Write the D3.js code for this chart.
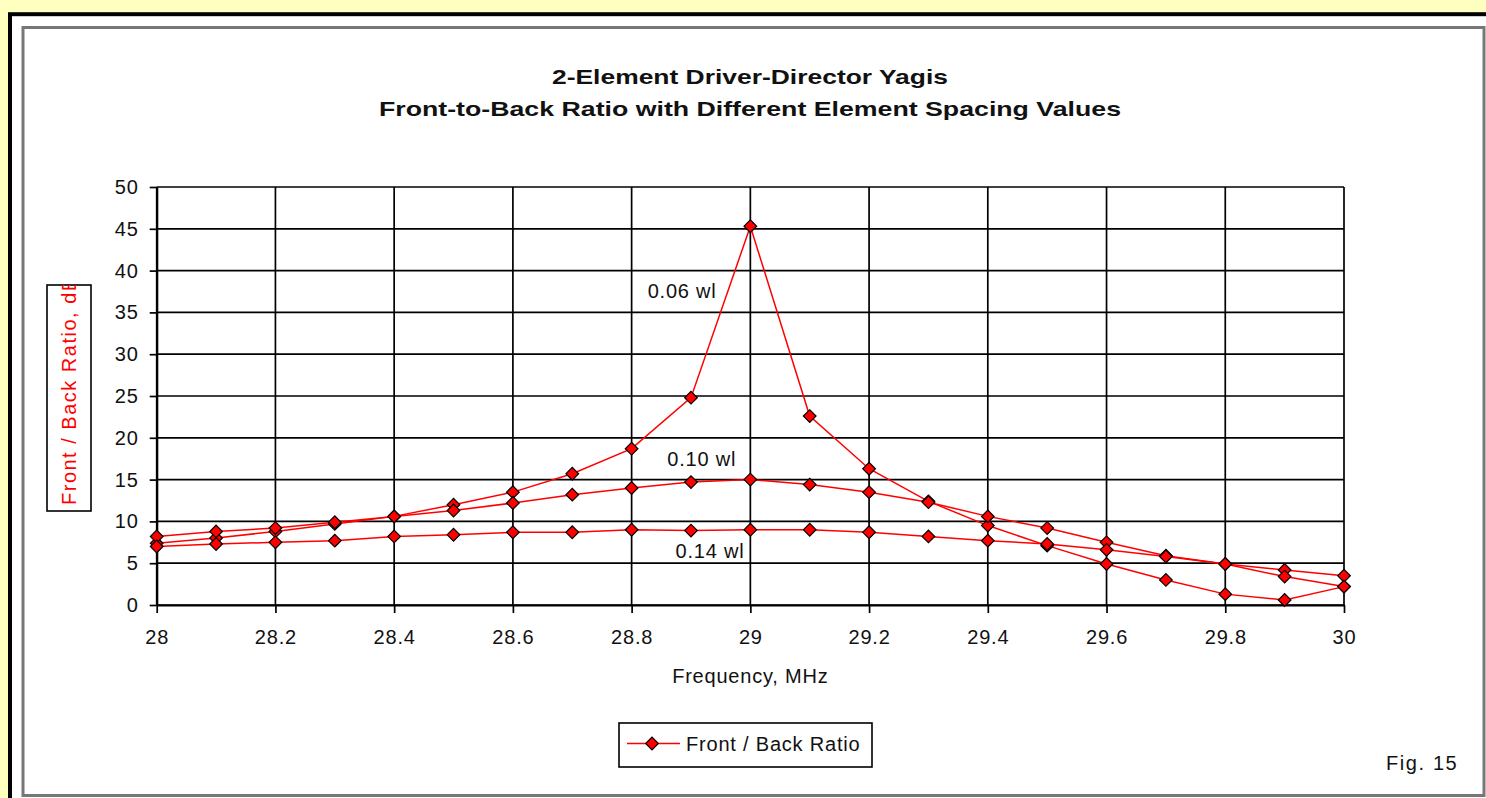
<!DOCTYPE html>
<html>
<head>
<meta charset="utf-8">
<script src="https://cdn.jsdelivr.net/npm/d3@7"></script>
<style>
  body { margin: 0; background: #ffffc0; overflow: hidden; }
  text { font-family: "Liberation Sans", Arial, sans-serif; }
</style>
</head>
<body>
<div id="chart"></div>
<script>
(function() {

  // frequency points, MHz
  const freqs = [28.0, 28.1, 28.2, 28.3, 28.4, 28.5, 28.6, 28.7, 28.8, 28.9, 29.0,
                 29.1, 29.2, 29.3, 29.4, 29.5, 29.6, 29.7, 29.8, 29.9, 30.0];

  // front-to-back ratio (dB) for each element spacing
  const fb006 = [7.4, 8.0, 8.8, 9.7, 10.6, 12.0, 13.5, 15.7, 18.7, 24.8, 45.3,
                 22.6, 16.3, 12.4, 9.5, 7.1, 4.9, 3.0, 1.3, 0.6, 2.2];
  const fb010 = [8.2, 8.8, 9.2, 9.9, 10.6, 11.3, 12.2, 13.2, 14.0, 14.7, 15.0,
                 14.4, 13.5, 12.3, 10.6, 9.2, 7.5, 5.9, 4.9, 4.2, 3.5];
  const fb014 = [7.0, 7.3, 7.5, 7.7, 8.2, 8.4, 8.7, 8.7, 9.0, 8.9, 9.0,
                 9.0, 8.7, 8.2, 7.7, 7.3, 6.6, 5.8, 4.9, 3.4, 2.2];

  const xTicks = [28, 28.2, 28.4, 28.6, 28.8, 29, 29.2, 29.4, 29.6, 29.8, 30];
  const yTicks = [0, 5, 10, 15, 20, 25, 30, 35, 40, 45, 50];

  // curve labels, placed in data units (frequency, dB)
  const curveLabels = [
    { text: '0.06 wl', f: 28.827, v: 36.7 },
    { text: '0.10 wl', f: 28.86, v: 16.6 },
    { text: '0.14 wl', f: 28.874, v: 5.6 }
  ];

  const titleLines = ['2-Element Driver-Director Yagis',
                      'Front-to-Back Ratio with Different Element Spacing Values'];
  const xTitle = 'Frequency, MHz';
  const yTitle = 'Front / Back Ratio, dB';
  const legendText = 'Front / Back Ratio';
  const figText = 'Fig. 15';

  const W = 1486, H = 798;
  const plot = { left: 156.7, right: 1344, top: 187, bottom: 605 };
  const red = '#ff0000';
  const fontSize = 20;
  const spacing = 0.8;

  const svg = d3.select('#chart').append('svg')
    .attr('width', W)
    .attr('height', H)
    .style('display', 'block');

  // frame: yellow page, black border, white card, grey inner border
  svg.append('rect')
    .attr('width', W).attr('height', H)
    .attr('fill', '#ffffc0');
  svg.append('rect')
    .attr('x', 10).attr('y', 14.2)
    .attr('width', W + 20).attr('height', H + 20)
    .attr('fill', '#fff')
    .attr('stroke', '#000')
    .attr('stroke-width', 4);
  svg.append('rect')
    .attr('x', 23).attr('y', 27.5)
    .attr('width', 1461).attr('height', 768)
    .attr('fill', 'none')
    .attr('stroke', '#777')
    .attr('stroke-width', 3);

  const x = d3.scaleLinear().domain([28, 30]).range([plot.left, plot.right]);
  const y = d3.scaleLinear().domain([0, 50]).range([plot.bottom, plot.top]);

  // gridlines
  const grid = svg.append('g');
  grid.selectAll('.hgrid')
    .data(yTicks)
    .enter().append('line')
      .attr('class', 'hgrid')
      .attr('x1', plot.left).attr('x2', plot.right)
      .attr('y1', d => y(d)).attr('y2', d => y(d))
      .attr('stroke', '#000')
      .attr('stroke-width', 1.7);
  grid.selectAll('.vgrid')
    .data(xTicks)
    .enter().append('line')
      .attr('class', 'vgrid')
      .attr('x1', d => x(d)).attr('x2', d => x(d))
      .attr('y1', plot.top).attr('y2', plot.bottom)
      .attr('stroke', '#000')
      .attr('stroke-width', 1.7);

  // axes
  const yAxis = svg.append('g')
    .attr('transform', `translate(${plot.left},0)`)
    .call(d3.axisLeft(y).tickValues(yTicks).tickSize(7).tickSizeOuter(0).tickPadding(11));
  const xAxis = svg.append('g')
    .attr('transform', `translate(0,${plot.bottom})`)
    .call(d3.axisBottom(x).tickValues(xTicks).tickFormat(d3.format('')).tickSize(8).tickSizeOuter(0).tickPadding(17));
  [xAxis, yAxis].forEach(ax => {
    ax.select('.domain').attr('stroke', '#000').attr('stroke-width', 2.2);
    ax.selectAll('.tick line').attr('stroke', '#000').attr('stroke-width', 1.7);
    ax.selectAll('.tick text')
      .attr('fill', '#111')
      .style('font-family', '"Liberation Sans", Arial, sans-serif')
      .style('font-size', fontSize + 'px')
      .style('letter-spacing', spacing + 'px');
  });

  // series
  const series = [fb006, fb010, fb014].map(vals => vals.map((v, i) => ({ f: freqs[i], v: v })));
  const line = d3.line().x(d => x(d.f)).y(d => y(d.v));
  const diamond = d3.symbol().type(d3.symbolSquare).size(80);

  series.forEach(s => {
    svg.append('path')
      .datum(s)
      .attr('d', line)
      .attr('fill', 'none')
      .attr('stroke', red)
      .attr('stroke-width', 1.5);
  });
  series.forEach(s => {
    svg.append('g').selectAll('path')
      .data(s)
      .enter().append('path')
        .attr('d', diamond)
        .attr('transform', d => `translate(${x(d.f)},${y(d.v)}) rotate(45)`)
        .attr('fill', red)
        .attr('stroke', '#000')
        .attr('stroke-width', 1.2);
  });

  // curve labels
  svg.selectAll('.curve-label')
    .data(curveLabels)
    .enter().append('text')
      .attr('class', 'curve-label')
      .attr('x', d => x(d.f))
      .attr('y', d => y(d.v))
      .attr('font-size', fontSize)
      .attr('letter-spacing', spacing)
      .attr('fill', '#111')
      .text(d => d.text);

  // title
  const titleWidths = [396, 742];
  titleLines.forEach((t, i) => {
    svg.append('text')
      .attr('x', 750)
      .attr('y', 83.5 + i * 32.3)
      .attr('text-anchor', 'middle')
      .attr('font-size', fontSize + 1)
      .attr('font-weight', 'bold')
      .attr('fill', '#111')
      .attr('textLength', titleWidths[i])
      .attr('lengthAdjust', 'spacingAndGlyphs')
      .text(t);
  });

  // x axis title
  svg.append('text')
    .attr('x', (plot.left + plot.right) / 2)
    .attr('y', 682.5)
    .attr('text-anchor', 'middle')
    .attr('font-size', fontSize)
    .attr('letter-spacing', spacing)
    .attr('fill', '#111')
    .text(xTitle);

  // y axis title, boxed and clipped
  const yBox = { x: 47, y: 285, w: 44, h: 226 };
  svg.append('clipPath')
    .attr('id', 'ybox-clip')
    .append('rect')
      .attr('x', yBox.x).attr('y', yBox.y)
      .attr('width', yBox.w).attr('height', yBox.h);
  svg.append('rect')
    .attr('x', yBox.x).attr('y', yBox.y)
    .attr('width', yBox.w).attr('height', yBox.h)
    .attr('fill', '#fff')
    .attr('stroke', '#000')
    .attr('stroke-width', 1.6);
  svg.append('g')
    .attr('clip-path', 'url(#ybox-clip)')
    .append('text')
      .attr('transform', 'translate(76,505) rotate(-90)')
      .attr('font-size', fontSize)
      .attr('letter-spacing', 1.5)
      .attr('fill', red)
      .text(yTitle);

  // legend
  const legend = svg.append('g').attr('transform', 'translate(619,723)');
  legend.append('rect')
    .attr('width', 253).attr('height', 44)
    .attr('fill', '#fff')
    .attr('stroke', '#000')
    .attr('stroke-width', 1.6);
  legend.append('line')
    .attr('x1', 8).attr('x2', 61)
    .attr('y1', 20.5).attr('y2', 20.5)
    .attr('stroke', red)
    .attr('stroke-width', 1.5);
  legend.append('path')
    .attr('d', diamond)
    .attr('transform', 'translate(33,20.5) rotate(45)')
    .attr('fill', red)
    .attr('stroke', '#000')
    .attr('stroke-width', 1.2);
  legend.append('text')
    .attr('x', 67).attr('y', 27.5)
    .attr('font-size', fontSize)
    .attr('letter-spacing', spacing)
    .attr('fill', '#111')
    .text(legendText);

  // figure number
  svg.append('text')
    .attr('x', 1386).attr('y', 770)
    .attr('font-size', fontSize)
    .attr('letter-spacing', 1.6)
    .attr('fill', '#111')
    .text(figText);

}());
</script>
</body>
</html>
